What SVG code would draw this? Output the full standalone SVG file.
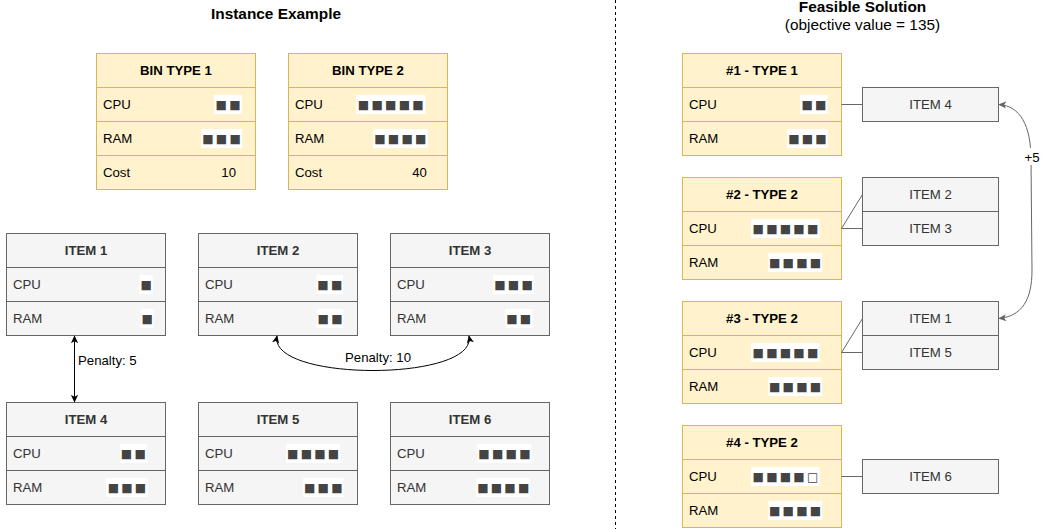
<svg xmlns="http://www.w3.org/2000/svg" width="1045" height="529" viewBox="0 0 1045 529">
<style>
.bin{fill:#fff2cc;stroke:#d6b656;stroke-width:1}
.itm{fill:#f5f5f5;stroke:#666666;stroke-width:1}
.t{font-family:"Liberation Sans",Arial,sans-serif;font-size:13.2px;fill:#000}
.ti{font-family:"Liberation Sans",Arial,sans-serif;font-size:13.2px;fill:#333333}
.h{font-weight:bold;text-anchor:middle}
.c{text-anchor:middle}
.title{font-family:"Liberation Sans",Arial,sans-serif;font-size:15.4px;fill:#000;text-anchor:middle}
.sq{font-family:"DejaVu Sans",sans-serif;font-size:12px;fill:#444444;text-anchor:middle}
.bg{fill:#ffffff;stroke:none}
.ln{fill:none;stroke:#666666;stroke-width:1}
.blk{fill:none;stroke:#000000;stroke-width:1}
</style>
<defs>
<marker id="ab" viewBox="0 0 10 10" refX="9" refY="5" markerWidth="8" markerHeight="8" markerUnits="userSpaceOnUse" orient="auto-start-reverse">
<path d="M0,0.5 L10,5 L0,9.5 L2.5,5 Z" fill="#000000"/>
</marker>
<marker id="ag" viewBox="0 0 10 10" refX="9" refY="5" markerWidth="8" markerHeight="8" markerUnits="userSpaceOnUse" orient="auto-start-reverse">
<path d="M0,0.5 L10,5 L0,9.5 L2.5,5 Z" fill="#666666"/>
</marker>
</defs>

<g id="titles">
<text class="title" x="276" y="19" font-weight="bold">Instance Example</text>
<text class="title" x="862.5" y="12" font-weight="bold">Feasible Solution</text>
<text class="title" x="862.5" y="29.5">(objective value = 135)</text>
</g>

<g id="separator">
<line x1="615.5" y1="0" x2="615.5" y2="529" stroke="#000" stroke-width="1" stroke-dasharray="3 3"/>
</g>

<g id="bin-type-1">
<rect class="bin" x="96.5" y="53.5" width="159" height="34"/>
<rect class="bin" x="96.5" y="87.5" width="159" height="34"/>
<rect class="bin" x="96.5" y="121.5" width="159" height="34"/>
<rect class="bin" x="96.5" y="155.5" width="159" height="34"/>
<text class="t h" x="176" y="75">BIN TYPE 1</text>
<text class="t" x="103" y="109">CPU</text>
<rect class="bg" x="214" y="95" width="28" height="19"/>
<text class="sq" x="221.2 234.8" y="108.5">■■</text>
<text class="t" x="103" y="143">RAM</text>
<rect class="bg" x="201" y="129" width="41" height="19"/>
<text class="sq" x="207.9 221.5 235.1" y="142.5">■■■</text>
<text class="t" x="103" y="177">Cost</text>
<text class="t c" x="228.7" y="177">10</text>
</g>

<g id="bin-type-2">
<rect class="bin" x="288.5" y="53.5" width="159" height="34"/>
<rect class="bin" x="288.5" y="87.5" width="159" height="34"/>
<rect class="bin" x="288.5" y="121.5" width="159" height="34"/>
<rect class="bin" x="288.5" y="155.5" width="159" height="34"/>
<text class="t h" x="368" y="75">BIN TYPE 2</text>
<text class="t" x="295" y="109">CPU</text>
<rect class="bg" x="356" y="95" width="69.3" height="19"/>
<text class="sq" x="363.5 377.1 390.7 404.3 417.9" y="108.5">■■■■■</text>
<text class="t" x="295" y="143">RAM</text>
<rect class="bg" x="373" y="129" width="54.7" height="19"/>
<text class="sq" x="379.9 393.5 407.1 420.7" y="142.5">■■■■</text>
<text class="t" x="295" y="177">Cost</text>
<text class="t c" x="419.5" y="177">40</text>
</g>

<g id="item-1">
<rect class="itm" x="6.5" y="233.5" width="159" height="34"/>
<rect class="itm" x="6.5" y="267.5" width="159" height="34"/>
<rect class="itm" x="6.5" y="301.5" width="159" height="34"/>
<text class="ti h" x="86" y="255">ITEM 1</text>
<text class="ti" x="13" y="289">CPU</text>
<rect class="bg" x="139.4" y="275" width="13.4" height="19"/>
<text class="sq" x="146.1" y="288.5">■</text>
<text class="ti" x="13" y="323">RAM</text>
<rect class="bg" x="140.7" y="309" width="13" height="19"/>
<text class="sq" x="147.2" y="322.5">■</text>
</g>

<g id="item-2">
<rect class="itm" x="198.5" y="233.5" width="159" height="34"/>
<rect class="itm" x="198.5" y="267.5" width="159" height="34"/>
<rect class="itm" x="198.5" y="301.5" width="159" height="34"/>
<text class="ti h" x="278" y="255">ITEM 2</text>
<text class="ti" x="205" y="289">CPU</text>
<rect class="bg" x="316.5" y="275" width="26.5" height="19"/>
<text class="sq" x="323 336.6" y="288.5">■■</text>
<text class="ti" x="205" y="323">RAM</text>
<rect class="bg" x="316.7" y="309" width="26.6" height="19"/>
<text class="sq" x="323.2 336.8" y="322.5">■■</text>
</g>

<g id="item-3">
<rect class="itm" x="390.5" y="233.5" width="159" height="34"/>
<rect class="itm" x="390.5" y="267.5" width="159" height="34"/>
<rect class="itm" x="390.5" y="301.5" width="159" height="34"/>
<text class="ti h" x="470" y="255">ITEM 3</text>
<text class="ti" x="397" y="289">CPU</text>
<rect class="bg" x="493" y="275" width="41" height="19"/>
<text class="sq" x="499.9 513.5 527.1" y="288.5">■■■</text>
<text class="ti" x="397" y="323">RAM</text>
<rect class="bg" x="505" y="309" width="27.5" height="19"/>
<text class="sq" x="511.9 525.5" y="322.5">■■</text>
</g>

<g id="item-4">
<rect class="itm" x="6.5" y="402.5" width="159" height="34"/>
<rect class="itm" x="6.5" y="436.5" width="159" height="34"/>
<rect class="itm" x="6.5" y="470.5" width="159" height="34"/>
<text class="ti h" x="86" y="424">ITEM 4</text>
<text class="ti" x="13" y="458">CPU</text>
<rect class="bg" x="120" y="444" width="26.7" height="19"/>
<text class="sq" x="126.5 140.1" y="457.5">■■</text>
<text class="ti" x="13" y="492">RAM</text>
<rect class="bg" x="106" y="478" width="41.7" height="19"/>
<text class="sq" x="113.3 126.9 140.5" y="491.5">■■■</text>
</g>

<g id="item-5">
<rect class="itm" x="198.5" y="402.5" width="159" height="34"/>
<rect class="itm" x="198.5" y="436.5" width="159" height="34"/>
<rect class="itm" x="198.5" y="470.5" width="159" height="34"/>
<text class="ti h" x="278" y="424">ITEM 5</text>
<text class="ti" x="205" y="458">CPU</text>
<rect class="bg" x="286" y="444" width="54.2" height="19"/>
<text class="sq" x="292.7 306.3 319.9 333.5" y="457.5">■■■■</text>
<text class="ti" x="205" y="492">RAM</text>
<rect class="bg" x="303" y="478" width="40.4" height="19"/>
<text class="sq" x="309.6 323.2 336.8" y="491.5">■■■</text>
</g>

<g id="item-6">
<rect class="itm" x="390.5" y="402.5" width="159" height="34"/>
<rect class="itm" x="390.5" y="436.5" width="159" height="34"/>
<rect class="itm" x="390.5" y="470.5" width="159" height="34"/>
<text class="ti h" x="470" y="424">ITEM 6</text>
<text class="ti" x="397" y="458">CPU</text>
<rect class="bg" x="477.3" y="444" width="54.2" height="19"/>
<text class="sq" x="484 497.6 511.2 524.8" y="457.5">■■■■</text>
<text class="ti" x="397" y="492">RAM</text>
<rect class="bg" x="476.3" y="478" width="53.7" height="19"/>
<text class="sq" x="482.8 496.4 510 523.6" y="491.5">■■■■</text>
</g>

<g id="sol-bin-1">
<rect class="bin" x="682.5" y="53.5" width="159" height="34"/>
<rect class="bin" x="682.5" y="87.5" width="159" height="34"/>
<rect class="bin" x="682.5" y="121.5" width="159" height="34"/>
<text class="t h" x="762" y="75">#1 - TYPE 1</text>
<text class="t" x="689" y="109">CPU</text>
<rect class="bg" x="800" y="95" width="27.7" height="19"/>
<text class="sq" x="807.1 820.7" y="108.5">■■</text>
<text class="t" x="689" y="143">RAM</text>
<rect class="bg" x="787" y="129" width="40.7" height="19"/>
<text class="sq" x="793.8 807.4 821" y="142.5">■■■</text>
</g>

<g id="sol-bin-2">
<rect class="bin" x="682.5" y="177.5" width="159" height="34"/>
<rect class="bin" x="682.5" y="211.5" width="159" height="34"/>
<rect class="bin" x="682.5" y="245.5" width="159" height="34"/>
<text class="t h" x="762" y="199">#2 - TYPE 2</text>
<text class="t" x="689" y="233">CPU</text>
<rect class="bg" x="751" y="219" width="68.7" height="19"/>
<text class="sq" x="758.2 771.8 785.4 799 812.6" y="232.5">■■■■■</text>
<text class="t" x="689" y="267">RAM</text>
<rect class="bg" x="768" y="253" width="54" height="19"/>
<text class="sq" x="774.6 788.2 801.8 815.4" y="266.5">■■■■</text>
</g>

<g id="sol-bin-3">
<rect class="bin" x="682.5" y="301.5" width="159" height="34"/>
<rect class="bin" x="682.5" y="335.5" width="159" height="34"/>
<rect class="bin" x="682.5" y="369.5" width="159" height="34"/>
<text class="t h" x="762" y="323">#3 - TYPE 2</text>
<text class="t" x="689" y="357">CPU</text>
<rect class="bg" x="751" y="343" width="68.7" height="19"/>
<text class="sq" x="758.2 771.8 785.4 799 812.6" y="356.5">■■■■■</text>
<text class="t" x="689" y="391">RAM</text>
<rect class="bg" x="768" y="377" width="54" height="19"/>
<text class="sq" x="774.6 788.2 801.8 815.4" y="390.5">■■■■</text>
</g>

<g id="sol-bin-4">
<rect class="bin" x="682.5" y="425.5" width="159" height="34"/>
<rect class="bin" x="682.5" y="459.5" width="159" height="34"/>
<rect class="bin" x="682.5" y="493.5" width="159" height="34"/>
<text class="t h" x="762" y="447">#4 - TYPE 2</text>
<text class="t" x="689" y="481">CPU</text>
<rect class="bg" x="751" y="467" width="68.7" height="19"/>
<text class="sq" x="758.2 771.8 785.4 799 812.6" y="480.5">■■■■□</text>
<text class="t" x="689" y="515">RAM</text>
<rect class="bg" x="768" y="501" width="54" height="19"/>
<text class="sq" x="774.6 788.2 801.8 815.4" y="514.5">■■■■</text>
</g>

<g id="sol-item-4">
<rect class="itm" x="862.5" y="87.5" width="136" height="34"/>
<text class="ti c" x="930.5" y="109">ITEM 4</text>
</g>
<g id="sol-item-2">
<rect class="itm" x="862.5" y="177.5" width="136" height="34"/>
<text class="ti c" x="930.5" y="199">ITEM 2</text>
</g>
<g id="sol-item-3">
<rect class="itm" x="862.5" y="211.5" width="136" height="34"/>
<text class="ti c" x="930.5" y="233">ITEM 3</text>
</g>
<g id="sol-item-1">
<rect class="itm" x="862.5" y="301.5" width="136" height="34"/>
<text class="ti c" x="930.5" y="323">ITEM 1</text>
</g>
<g id="sol-item-5">
<rect class="itm" x="862.5" y="335.5" width="136" height="34"/>
<text class="ti c" x="930.5" y="357">ITEM 5</text>
</g>
<g id="sol-item-6">
<rect class="itm" x="862.5" y="459.5" width="136" height="34"/>
<text class="ti c" x="930.5" y="481">ITEM 6</text>
</g>

<g id="connectors">
<line class="blk" x1="74.5" y1="336" x2="74.5" y2="402" marker-start="url(#ab)" marker-end="url(#ab)"/>
<text class="t" x="78" y="365">Penalty: 5</text>
<path class="blk" d="M277,336 C268,382 478,382 469,336" marker-start="url(#ab)" marker-end="url(#ab)"/>
<text class="t c" x="378" y="362">Penalty: 10</text>
<path class="ln" d="M841.5,104.5 L862.5,104.5"/>
<path class="ln" d="M841.5,228.5 L862.5,194.5 M841.5,228.5 L862.5,228.5"/>
<path class="ln" d="M841.5,352.5 L862.5,318.5 M841.5,352.5 L862.5,352.5"/>
<path class="ln" d="M841.5,476.5 L862.5,476.5"/>
<path class="ln" d="M999,104.5 C1020,106 1031,125 1031,160 L1032,270 C1032,300 1022,316 999,318.5" marker-start="url(#ag)" marker-end="url(#ag)"/>
<rect class="bg" x="1023" y="148" width="18" height="17"/>
<text class="t c" x="1032" y="161.5">+5</text>
</g>
</svg>
